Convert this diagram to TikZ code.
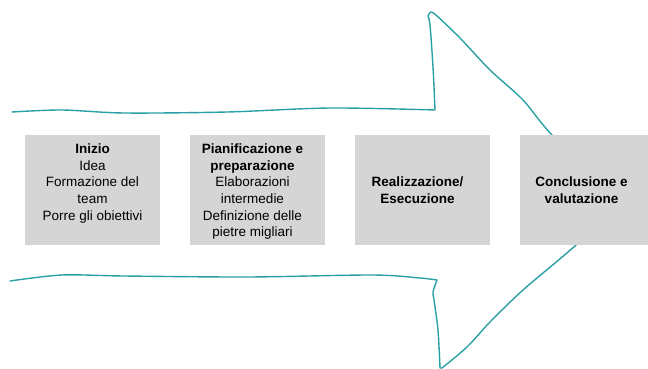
\documentclass[tikz,border=0pt]{standalone}
\usepackage{fontspec}
\setmainfont{Liberation Sans}
\usetikzlibrary{positioning}

\definecolor{arrowteal}{RGB}{42,160,166}
\definecolor{boxgray}{RGB}{213,213,213}

\begin{document}
\begin{tikzpicture}[x=1pt,y=-1pt,node distance=165pt,
    phase/.style={fill=boxgray,minimum width=135pt,minimum height=110pt,inner sep=0pt},
    phasetext/.style={align=center,inner sep=0pt,font=\fontsize{13.5}{16.6}\selectfont},
    sketch/.style={draw=arrowteal,line width=1.4pt,line join=round,line cap=round}]
  \useasboundingbox (0,0) rectangle (648,369);

  % hand drawn arrow outline, behind the phases
  \draw[sketch] plot[smooth,tension=.5] coordinates {(12,112) (62,110) (124,113) (227,112) (330,108) (435,110)}
    -- plot[smooth,tension=.5] coordinates {(435,110) (433,67) (430,25) (428,16)}
    -- plot[smooth,tension=.5] coordinates {(428,16) (431,12) (437,16) (460,38) (490,70) (523,100) (552,135) (622,204)}
    -- plot[smooth,tension=.5] coordinates {(622,204) (568,252) (523,290) (490,322) (467,347) (442,368)}
    -- plot[smooth,tension=.5] coordinates {(440,368) (438,330) (434,300) (433,292) (437,280)}
    -- plot[smooth,tension=.5] coordinates {(437,280) (420,278) (372,275) (248,277) (124,276) (62,275) (10,281)};

  % phases
  \node[phase] (inizio) at (92.5,190) {};
  \node[phase, right of=inizio] (pianif) {};
  \node[phase, right of=pianif] (realiz) {};
  \node[phase, right of=realiz] (concl) {};

  \node[phasetext, below=9pt of inizio.north] {\textbf{Inizio}\\Idea\\Formazione del\\team\\Porre gli obiettivi};
  \node[phasetext, below=9pt of pianif.north, xshift=-5pt] {\textbf{Pianificazione e}\\\textbf{preparazione}\\Elaborazioni\\intermedie\\Definizione delle\\pietre migliari};
  \node[phasetext, xshift=-5pt] at (realiz) {\textbf{Realizzazione/}\\\textbf{Esecuzione}};
  \node[phasetext, xshift=-6pt] at (concl) {\textbf{Conclusione e}\\\textbf{valutazione}};
\end{tikzpicture}
\end{document}
